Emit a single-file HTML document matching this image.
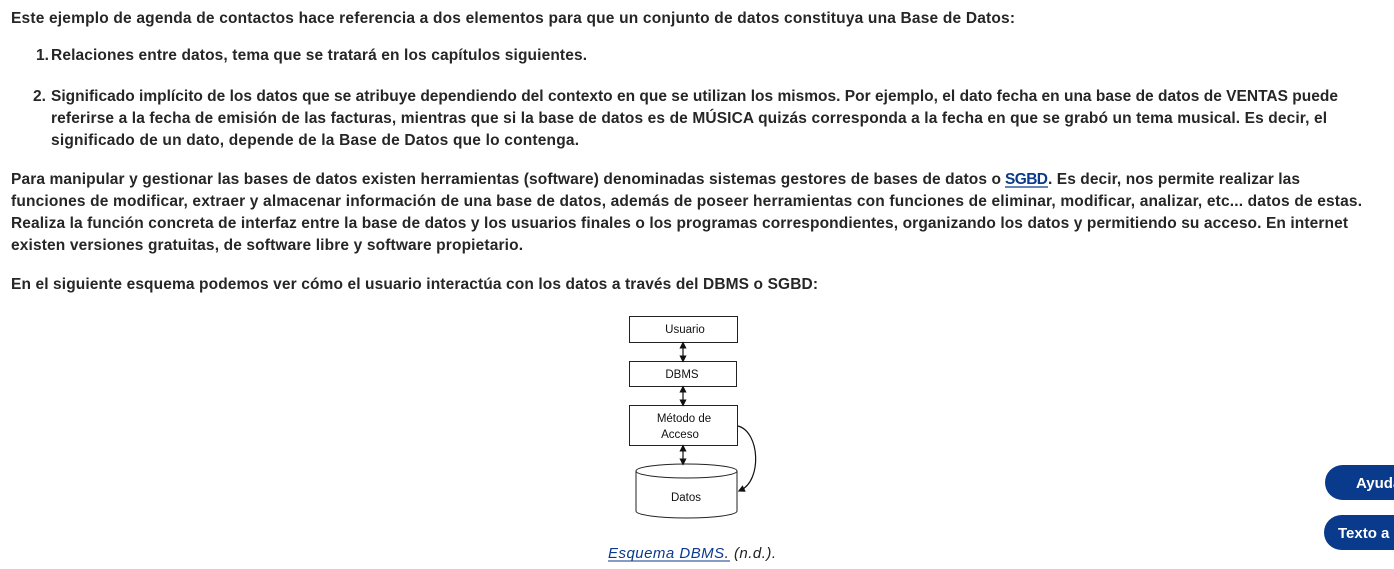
<!DOCTYPE html>
<html><head><meta charset="utf-8"><style>
html,body{margin:0;padding:0;background:#fff;width:1394px;height:569px;overflow:hidden}
svg{display:block}
.t{font-family:"Liberation Sans",sans-serif;font-size:15.5px;font-weight:bold;fill:#262626}
.d{font-family:"Liberation Sans",sans-serif;font-size:11.5px;fill:#111}
</style></head><body>
<svg width="1394" height="569" xmlns="http://www.w3.org/2000/svg">
<defs>
<marker id="a" markerWidth="6" markerHeight="6" refX="3" refY="3" orient="auto-start-reverse"><path d="M0,0 L6,3 L0,6 z" fill="#111"/></marker>
</defs>
<text class="t" x="11" y="23" textLength="1004" lengthAdjust="spacing">Este ejemplo de agenda de contactos hace referencia a dos elementos para que un conjunto de datos constituya una Base de Datos:</text>
<text class="t" x="36" y="60">1.</text>
<text class="t" x="51" y="60" textLength="536" lengthAdjust="spacing">Relaciones entre datos, tema que se tratará en los capítulos siguientes.</text>
<text class="t" x="33" y="101">2.</text>
<text class="t" x="51" y="101" textLength="1287" lengthAdjust="spacing">Significado implícito de los datos que se atribuye dependiendo del contexto en que se utilizan los mismos. Por ejemplo, el dato fecha en una base de datos de VENTAS puede</text>
<text class="t" x="51" y="123" textLength="1276" lengthAdjust="spacing">referirse a la fecha de emisión de las facturas, mientras que si la base de datos es de MÚSICA quizás corresponda a la fecha en que se grabó un tema musical. Es decir, el</text>
<text class="t" x="51" y="145" textLength="528" lengthAdjust="spacing">significado de un dato, depende de la Base de Datos que lo contenga.</text>
<text class="t" x="11" y="184" textLength="990" lengthAdjust="spacing">Para manipular y gestionar las bases de datos existen herramientas (software) denominadas sistemas gestores de bases de datos o</text>
<text class="t" x="1005" y="184" textLength="43" lengthAdjust="spacing" style="fill:#0a3a8c">SGBD</text>
<line x1="1005" y1="187" x2="1048" y2="187" stroke="#0a3a8c" stroke-width="1.2"/>
<text class="t" x="1048" y="184" textLength="252" lengthAdjust="spacing">. Es decir, nos permite realizar las</text>
<text class="t" x="11" y="206" textLength="1351" lengthAdjust="spacing">funciones de modificar, extraer y almacenar información de una base de datos, además de poseer herramientas con funciones de eliminar, modificar, analizar, etc... datos de estas.</text>
<text class="t" x="11" y="228" textLength="1337" lengthAdjust="spacing">Realiza la función concreta de interfaz entre la base de datos y los usuarios finales o los programas correspondientes, organizando los datos y permitiendo su acceso. En internet</text>
<text class="t" x="11" y="250" textLength="512" lengthAdjust="spacing">existen versiones gratuitas, de software libre y software propietario.</text>
<text class="t" x="11" y="289" textLength="807" lengthAdjust="spacing">En el siguiente esquema podemos ver cómo el usuario interactúa con los datos a través del DBMS o SGBD:</text>

<g stroke="#222" stroke-width="1" fill="#fff">
<rect x="629.5" y="316.5" width="108" height="26"/>
<rect x="629.5" y="361.5" width="107" height="25"/>
<rect x="629.5" y="405.5" width="108" height="40"/>
<path d="M636,471 L636,511 A50.5,7 0 0 0 737,511 L737,471"/>
<ellipse cx="686.5" cy="471" rx="50.5" ry="7"/>
</g>
<g stroke="#111" stroke-width="1.2" fill="none">
<line x1="683" y1="345" x2="683" y2="359" marker-start="url(#a)" marker-end="url(#a)"/>
<line x1="683" y1="389" x2="683" y2="403" marker-start="url(#a)" marker-end="url(#a)"/>
<line x1="683" y1="448" x2="683" y2="462" marker-start="url(#a)" marker-end="url(#a)"/>
<path d="M738,426 C760,432 762,480 741,490" marker-end="url(#a)"/>
</g>
<text class="d" x="685" y="333" text-anchor="middle">Usuario</text>
<text class="d" x="682" y="378" text-anchor="middle">DBMS</text>
<text class="d" x="684" y="422" text-anchor="middle">Método de</text>
<text class="d" x="680" y="438" text-anchor="middle">Acceso</text>
<text class="d" x="686" y="501" text-anchor="middle">Datos</text>

<text x="608" y="558" textLength="168" lengthAdjust="spacing" style="font-family:'Liberation Sans',sans-serif;font-size:15px;font-style:italic;fill:#0a3a8c">Esquema DBMS<tspan style="fill:#222">. (n.d.).</tspan></text>
<line x1="608" y1="561" x2="730" y2="561" stroke="#0a3a8c" stroke-width="1"/>

<rect x="1325" y="465" width="100" height="35" rx="17.5" fill="#0a3a8c"/>
<text x="1356" y="488" style="font-family:'Liberation Sans',sans-serif;font-size:15px;font-weight:bold;fill:#fff">Ayuda</text>
<rect x="1324" y="515" width="110" height="35" rx="17.5" fill="#0a3a8c"/>
<text x="1338" y="538" style="font-family:'Liberation Sans',sans-serif;font-size:15px;font-weight:bold;fill:#fff">Texto a</text>
</svg>
</body></html>
